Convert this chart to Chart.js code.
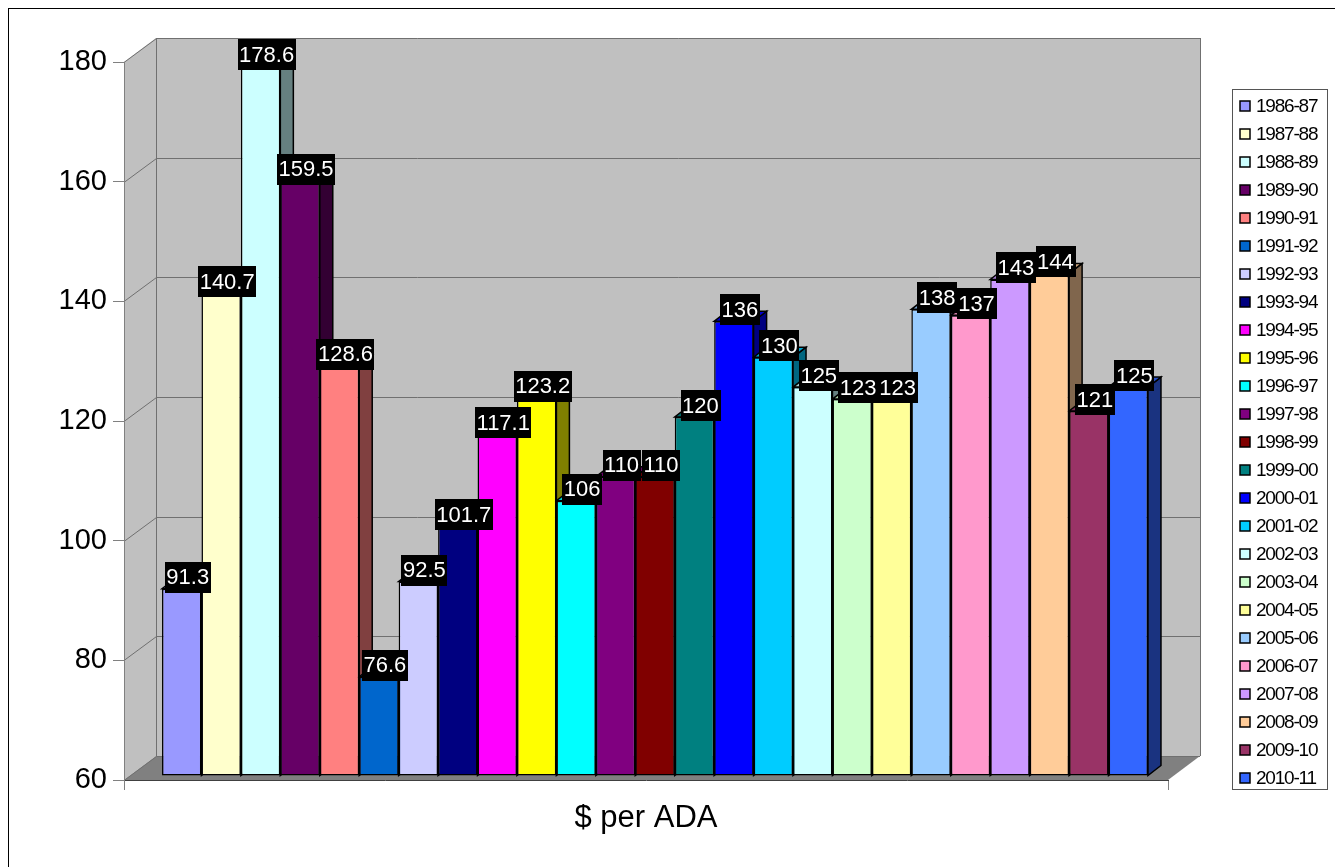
<!DOCTYPE html>
<html>
<head>
<meta charset="utf-8">
<script src="https://cdn.jsdelivr.net/npm/chart.js@4.4.1/dist/chart.umd.min.js"></script>
<style>
  html, body { margin: 0; padding: 0; background: #fff; }
  #wrap { width: 1335px; height: 867px; }
</style>
</head>
<body>
<div id="wrap"><canvas id="c" width="1335" height="867"></canvas></div>
<script>
// Funding per unit of average daily attendance, by school year
const categories = ['$ per ADA'];
const years = [
  '1986-87', '1987-88', '1988-89', '1989-90', '1990-91', '1991-92', '1992-93',
  '1993-94', '1994-95', '1995-96', '1996-97', '1997-98', '1998-99', '1999-00',
  '2000-01', '2001-02', '2002-03', '2003-04', '2004-05', '2005-06', '2006-07',
  '2007-08', '2008-09', '2009-10', '2010-11'
];
const values = [
  91.3, 140.7, 178.6, 159.5, 128.6, 76.6, 92.5,
  101.7, 117.1, 123.2, 106, 110, 110, 120,
  136, 130, 125, 123, 123, 138, 137,
  143, 144, 121, 125
];
const colors = [
  '#9999FF', '#FFFFCC', '#CCFFFF', '#660066', '#FF8080', '#0066CC', '#CCCCFF',
  '#000080', '#FF00FF', '#FFFF00', '#00FFFF', '#800080', '#800000', '#008080',
  '#0000FF', '#00CCFF', '#CCFFFF', '#CCFFCC', '#FFFF99', '#99CCFF', '#FF99CC',
  '#CC99FF', '#FFCC99', '#993366', '#3366FF'
];
const yTicks = [60, 80, 100, 120, 140, 160, 180];

const FONT = '"Liberation Sans", Arial, sans-serif';
const WALL = { x: 32, y: -24 };   // depth of the wall/floor box
const BAR = { x: 13, y: -10 };    // depth of each column
const SHIFT = { x: 9, y: -4 };    // columns sit slightly behind the front axis plane

function shade(hex, f) {
  const n = parseInt(hex.slice(1), 16);
  const r = Math.round(((n >> 16) & 255) * f);
  const g = Math.round(((n >> 8) & 255) * f);
  const b = Math.round((n & 255) * f);
  return `rgb(${r},${g},${b})`;
}
function poly(ctx, pts) {
  ctx.beginPath();
  ctx.moveTo(pts[0][0], pts[0][1]);
  for (let i = 1; i < pts.length; i++) ctx.lineTo(pts[i][0], pts[i][1]);
  ctx.closePath();
}

const box3d = {
  id: 'box3d',
  beforeDraw(chart) {
    const { ctx, chartArea: a, scales: { y } } = chart;
    ctx.save();
    ctx.fillStyle = '#fff';
    ctx.fillRect(0, 0, chart.width, chart.height);
    const top = y.getPixelForValue(y.max), bot = y.getPixelForValue(y.min);
    const L = a.left, R = a.right;
    ctx.fillStyle = '#C0C0C0';
    poly(ctx, [[L, top], [L + WALL.x, top + WALL.y], [L + WALL.x, bot + WALL.y], [L, bot]]);
    ctx.fill();
    ctx.fillRect(L + WALL.x, top + WALL.y, R - L, bot - top);
    ctx.fillStyle = '#808080';
    poly(ctx, [[L, bot], [L + WALL.x, bot + WALL.y], [R + WALL.x, bot + WALL.y], [R, bot]]);
    ctx.fill();
    ctx.strokeStyle = '#707070';
    ctx.lineWidth = 1;
    for (const v of yTicks) {
      const py = Math.round(y.getPixelForValue(v)) + 0.5;
      ctx.beginPath();
      ctx.moveTo(L, py);
      ctx.lineTo(L + WALL.x + 0.5, py + WALL.y);
      ctx.lineTo(R + WALL.x, py + WALL.y);
      ctx.stroke();
    }
    ctx.beginPath();
    ctx.moveTo(L + WALL.x + 0.5, top + WALL.y);
    ctx.lineTo(L + WALL.x + 0.5, bot + WALL.y);
    ctx.moveTo(R + WALL.x + 0.5, top + WALL.y);
    ctx.lineTo(R + WALL.x + 0.5, bot + WALL.y);
    ctx.stroke();
    ctx.restore();
  },
  beforeDatasetsDraw(chart) {
    const ctx = chart.ctx;
    ctx.save();
    ctx.translate(SHIFT.x, SHIFT.y);
    ctx.lineWidth = 1.5;
    ctx.strokeStyle = '#000';
    ctx.lineJoin = 'miter';
    chart.data.datasets.forEach((ds, i) => {
      const el = chart.getDatasetMeta(i).data[0];
      if (!el) return;
      const { x, y, base, width } = el.getProps(['x', 'y', 'base', 'width'], true);
      const l = x - width / 2, r = x + width / 2;
      poly(ctx, [[r, y], [r + BAR.x, y + BAR.y], [r + BAR.x, base + BAR.y], [r, base]]);
      ctx.fillStyle = shade(colors[i], 0.5);
      ctx.fill();
      ctx.stroke();
      poly(ctx, [[l, y], [r, y], [r + BAR.x, y + BAR.y], [l + BAR.x, y + BAR.y]]);
      ctx.fillStyle = shade(colors[i], 0.8);
      ctx.fill();
      ctx.stroke();
    });
  },
  afterDatasetsDraw(chart) {
    const ctx = chart.ctx;
    ctx.restore();
    ctx.save();
    ctx.font = `22px ${FONT}`;
    ctx.textAlign = 'center';
    ctx.textBaseline = 'middle';
    chart.data.datasets.forEach((ds, i) => {
      const el = chart.getDatasetMeta(i).data[0];
      if (!el) return;
      const { x, y } = el.getProps(['x', 'y'], true);
      const txt = String(ds.data[0]);
      const cx = x + SHIFT.x + 6, cy = y + SHIFT.y - 11.5;
      const w = ctx.measureText(txt).width + 3, h = 31;
      ctx.fillStyle = '#000';
      ctx.fillRect(Math.round(cx - w / 2), Math.round(cy - h / 2), Math.round(w), h);
      ctx.fillStyle = '#fff';
      ctx.fillText(txt, cx, cy + 1);
    });
    ctx.restore();
  },
  afterDraw(chart) {
    const ctx = chart.ctx;
    ctx.save();
    // legend
    ctx.fillStyle = '#fff';
    ctx.fillRect(1232, 89, 95, 700);
    ctx.strokeStyle = '#555';
    ctx.lineWidth = 1;
    ctx.strokeRect(1232.5, 89.5, 95, 700);
    ctx.font = `19px ${FONT}`;
    ctx.letterSpacing = '-1.2px';
    ctx.textBaseline = 'middle';
    ctx.textAlign = 'left';
    years.forEach((label, i) => {
      const cy = 106 + 28 * i;
      ctx.fillStyle = colors[i];
      ctx.fillRect(1240, cy - 5, 10, 10);
      ctx.lineWidth = 1.5;
      ctx.strokeStyle = '#000';
      ctx.strokeRect(1240, cy - 5, 10, 10);
      ctx.fillStyle = '#000';
      ctx.fillText(label, 1256, cy + 1);
    });
    // outer frame
    ctx.letterSpacing = '0px';
    ctx.lineWidth = 1;
    ctx.strokeStyle = '#000';
    ctx.strokeRect(8.5, 8.5, 1400, 900);
    ctx.restore();
  }
};

const datasets = years.map((label, i) => ({
  label,
  data: [values[i]],
  base: yTicks[0],
  backgroundColor: colors[i],
  borderColor: '#000',
  borderWidth: 1.5,
  borderSkipped: false,
  clip: false
}));

new Chart(document.getElementById('c'), {
  type: 'bar',
  data: { labels: categories, datasets },
  options: {
    responsive: false,
    animation: false,
    devicePixelRatio: 1,
    datasets: { bar: { categoryPercentage: 0.9444, barPercentage: 1 } },
    layout: { padding: { left: 0, right: 167, top: 62, bottom: 0 } },
    plugins: { legend: { display: false }, tooltip: { enabled: false } },
    scales: {
      x: {
        offset: true,
        grid: { offset: true, drawOnChartArea: false, drawTicks: true, tickLength: 10, color: '#808080' },
        border: { display: true, color: '#404040', width: 1 },
        ticks: { font: { family: FONT, size: 31 }, color: '#000', padding: 10, maxRotation: 0 },
        afterFit(s) { s.height = 87; }
      },
      y: {
        min: 60,
        max: 180,
        afterBuildTicks(s) { s.ticks = yTicks.map(v => ({ value: v })); },
        ticks: { font: { family: FONT, size: 29 }, color: '#000', padding: 6 },
        grid: { drawOnChartArea: false, drawTicks: true, tickLength: 11, color: '#808080' },
        border: { display: true, color: '#808080', width: 1 },
        afterFit(s) { s.width = 124; }
      }
    }
  },
  plugins: [box3d]
});
</script>
</body>
</html>
